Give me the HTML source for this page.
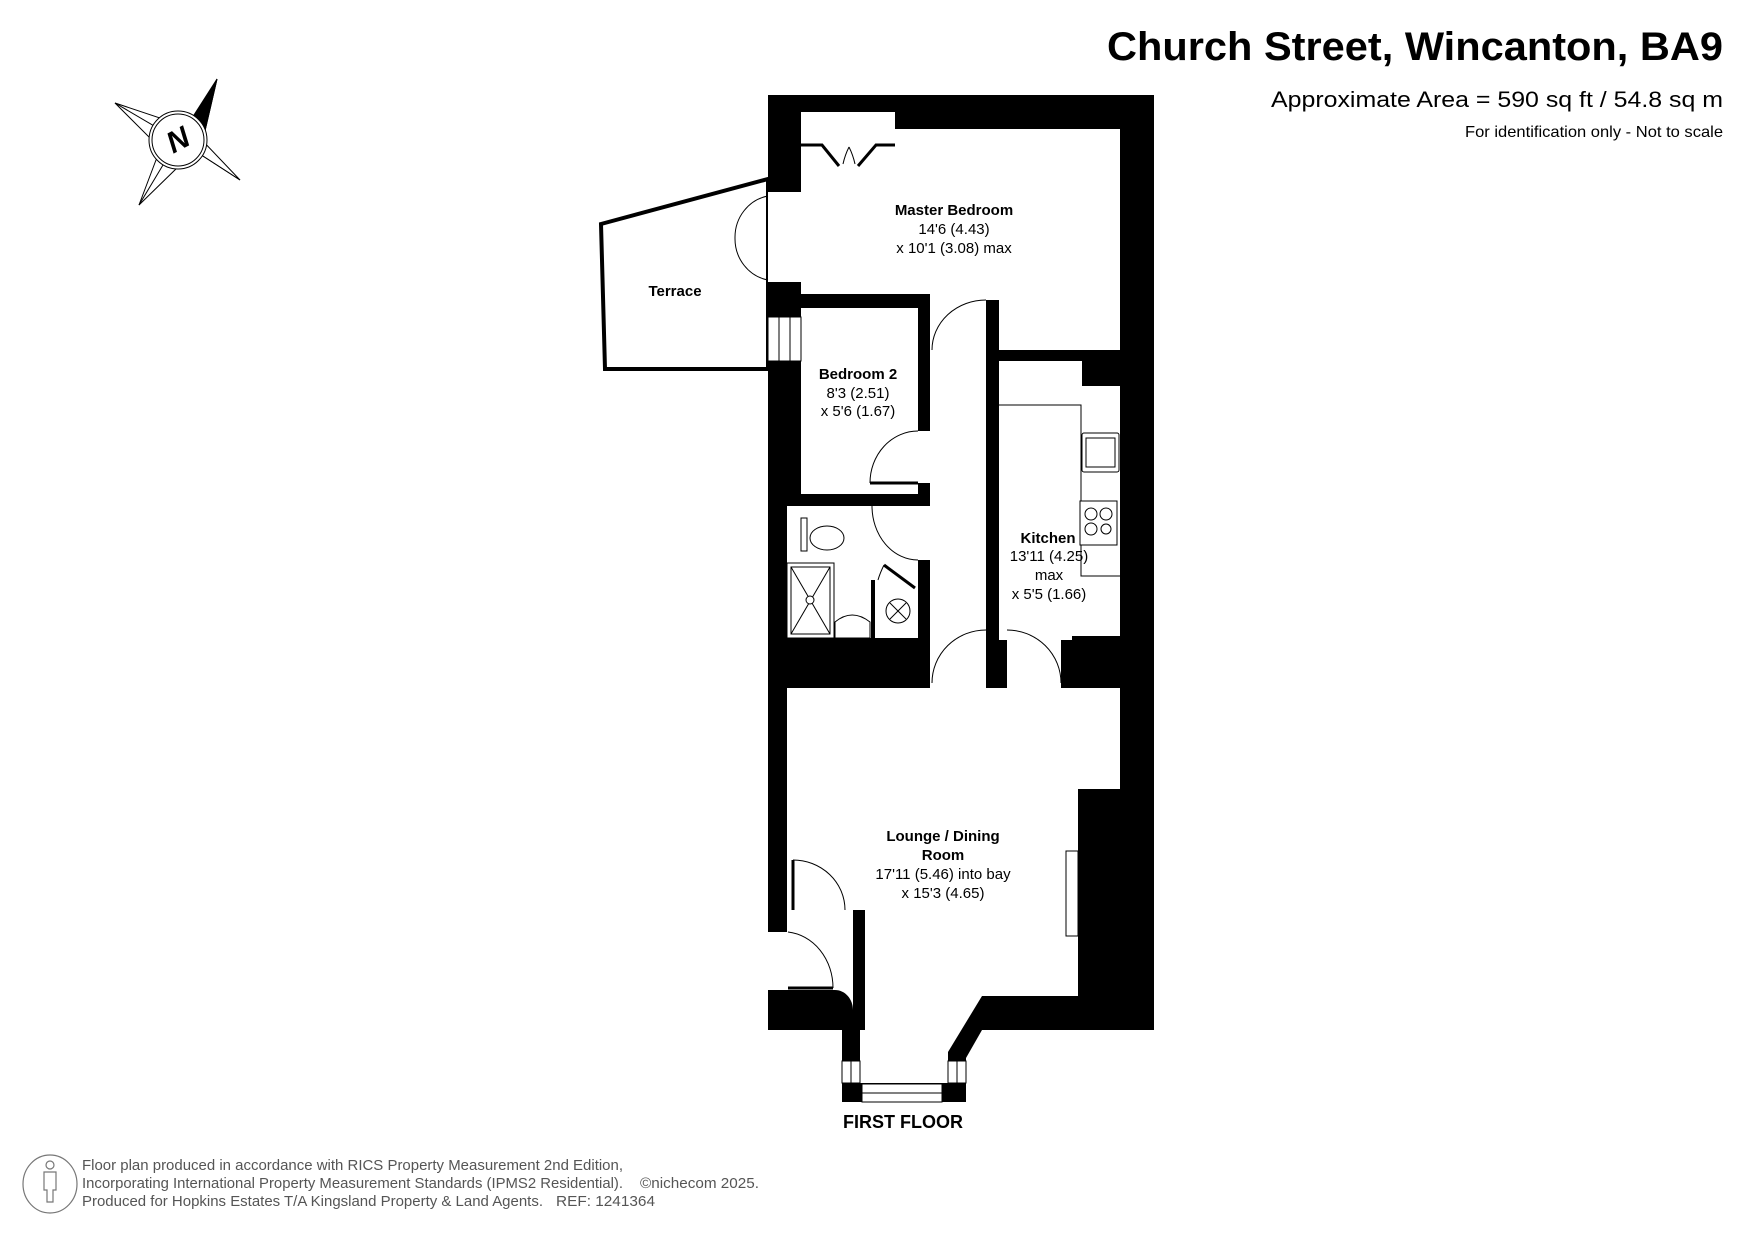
<!DOCTYPE html>
<html><head><meta charset="utf-8"><style>
html,body{margin:0;padding:0;background:#fff;}
svg{display:block;}
text{font-family:"Liberation Sans",Arial,sans-serif;}
</style></head><body>
<svg width="1755" height="1241" viewBox="0 0 1755 1241" xmlns="http://www.w3.org/2000/svg">
<rect width="1755" height="1241" fill="#fff"/>

<text x="1723" y="60" text-anchor="end" font-size="40" font-weight="bold" textLength="616" lengthAdjust="spacingAndGlyphs">Church Street, Wincanton, BA9</text>
<text x="1723" y="107" text-anchor="end" font-size="22" textLength="452" lengthAdjust="spacingAndGlyphs">Approximate Area = 590 sq ft / 54.8 sq m</text>
<text x="1723" y="137" text-anchor="end" font-size="16" textLength="258" lengthAdjust="spacingAndGlyphs">For identification only - Not to scale</text>

<!-- Compass -->
<g stroke="#000" stroke-width="1" fill="none">
  <polygon points="217,79 196,123 178,140 201,148" fill="#fff"/>
  <polygon points="217,79 201,148 178,140" fill="#000"/>
  <polygon points="115,103 160,118 178,140 150,138" fill="#fff"/>
  <polygon points="240,180 206,158 178,140 200,138" fill="#fff"/>
  <polygon points="139,205 156,160 178,140 180,165" fill="#fff"/>
  <line x1="115" y1="103" x2="178" y2="140"/>
  <line x1="240" y1="180" x2="178" y2="140"/>
  <line x1="139" y1="205" x2="178" y2="140"/>
  <circle cx="178" cy="140" r="29" fill="#fff"/>
  <circle cx="178" cy="140" r="26"/>
</g>
<text x="178" y="150" text-anchor="middle" font-size="30" font-weight="bold" font-style="italic" transform="rotate(-28 178 140)">N</text>

<!-- Terrace -->
<polygon points="601,224 768,179 768,369 605,369" fill="#fff" stroke="#000" stroke-width="4"/>
<text x="675" y="296" text-anchor="middle" font-size="15" font-weight="bold">Terrace</text>

<!-- Building black mass -->
<polygon points="768,95 1154,95 1154,1030 982,1030 966,1058 966,1102 842,1102 842,1030 768,1030" fill="#000"/>

<g fill="#fff">
  <polygon points="801,112 895,112 895,129 1120,129 1120,350 986,350 986,294 801,294"/>
  <rect x="768" y="192" width="34" height="90"/>
  <rect x="930" y="294" width="56" height="396"/>
  <rect x="801" y="308" width="117" height="186"/>
  <rect x="917" y="431" width="14" height="52"/>
  <rect x="787" y="506" width="131" height="132"/>
  <rect x="917" y="506" width="14" height="54"/>
  <rect x="999" y="361" width="83" height="30"/>
  <rect x="999" y="386" width="121" height="250"/>
  <rect x="999" y="630" width="73" height="10"/>
  <rect x="1007" y="630" width="54" height="60"/>
  <rect x="932" y="630" width="54" height="60"/>
  <path d="M787,688 L1120,688 L1120,789 L1078,789 L1078,996 L982,996 L948,1052 L948,1083 L860,1083 L860,1030 L865,1030 L865,910 L853,910 L853,1010 C853,999 845,990 835,990 L787,990 Z"/>
  <rect x="768" y="932" width="20" height="58"/>
</g>

<rect x="986" y="300" width="13" height="50" fill="#000"/>
<rect x="871" y="580" width="4" height="58" fill="#000"/>

<!-- Windows -->
<g fill="#fff" stroke="#000" stroke-width="1">
  <rect x="768" y="317" width="33" height="44"/>
  <line x1="779" y1="317" x2="779" y2="361"/><line x1="790" y1="317" x2="790" y2="361"/>
  <rect x="842" y="1061" width="18" height="22"/>
  <line x1="851" y1="1061" x2="851" y2="1083"/>
  <rect x="948" y="1061" width="18" height="22"/>
  <line x1="957" y1="1061" x2="957" y2="1083"/>
  <rect x="862" y="1084" width="80" height="18"/>
  <line x1="862" y1="1093" x2="942" y2="1093"/>
  <rect x="1066" y="851" width="12" height="85"/>
</g>

<!-- Doors -->
<g fill="none" stroke="#000" stroke-width="1">
  <path d="M768,196 A40,42 0 0 0 735,238"/>
  <path d="M768,280 A40,42 0 0 1 735,238"/>
  <path d="M932,350 A54,50 0 0 1 986,300"/>
  <path d="M870,483 A48,52 0 0 1 918,431"/>
  <path d="M872,506 A46,54 0 0 0 918,560"/>
  <path d="M932,683 A54,53 0 0 1 986,630"/>
  <path d="M1061,683 A54,53 0 0 0 1007,630"/>
  <path d="M793,860 A52,50 0 0 1 845,910"/>
  <path d="M788,932 A50,56 0 0 1 833,988"/>
  <path d="M849,147 Q845,155 843,164"/><path d="M849,147 Q853,155 855,164"/>
  <path d="M884,565 Q880,573 878,580"/>
</g>
<g stroke="#000" stroke-width="3" fill="none">
  <polyline points="801,145 822,145 839,166"/>
  <polyline points="895,145 876,145 858,166"/>
  <line x1="793" y1="860" x2="793" y2="910"/>
  <line x1="788" y1="988" x2="833" y2="988"/>
  <line x1="870" y1="483" x2="918" y2="483"/>
  <line x1="884" y1="565" x2="915" y2="588"/>
</g>

<!-- Kitchen fittings -->
<g fill="#fff" stroke="#000" stroke-width="1">
  <polyline points="999,405 1081,405 1081,576 1120,576" fill="none"/>
  <rect x="1082" y="433" width="37" height="39" rx="2"/>
  <rect x="1086" y="438" width="29" height="29"/>
  <rect x="1080" y="501" width="37" height="44"/>
  <circle cx="1091" cy="514" r="6"/><circle cx="1106" cy="514" r="6"/>
  <circle cx="1091" cy="529" r="6"/><circle cx="1106" cy="529" r="5"/>
</g>

<!-- Bath fittings -->
<g fill="#fff" stroke="#000" stroke-width="1">
  <rect x="801" y="518" width="6" height="33"/>
  <ellipse cx="827" cy="538" rx="17" ry="12"/>
  <rect x="787" y="563" width="47" height="75"/>
  <rect x="791" y="567" width="39" height="67"/>
  <line x1="791" y1="567" x2="830" y2="634"/><line x1="830" y1="567" x2="791" y2="634"/>
  <circle cx="810" cy="600" r="4"/>
  <path d="M835,638 L835,622 Q852,608 870,622 L870,638 Z"/>
  <circle cx="898" cy="611" r="12"/>
  <line x1="890" y1="603" x2="906" y2="619"/><line x1="906" y1="603" x2="890" y2="619"/>
</g>

<!-- Room labels -->
<g font-size="15" text-anchor="middle">
  <text x="954" y="215" font-weight="bold">Master Bedroom</text>
  <text x="954" y="234">14'6 (4.43)</text>
  <text x="954" y="253">x 10'1 (3.08) max</text>
  <text x="858" y="379" font-weight="bold">Bedroom 2</text>
  <text x="858" y="398">8'3 (2.51)</text>
  <text x="858" y="416">x 5'6 (1.67)</text>
  <text x="1048" y="543" font-weight="bold">Kitchen</text>
  <text x="1049" y="561">13'11 (4.25)</text>
  <text x="1049" y="580">max</text>
  <text x="1049" y="599">x 5'5 (1.66)</text>
  <text x="943" y="841" font-weight="bold">Lounge / Dining</text>
  <text x="943" y="860" font-weight="bold">Room</text>
  <text x="943" y="879">17'11 (5.46) into bay</text>
  <text x="943" y="898">x 15'3 (4.65)</text>
</g>
<text x="903" y="1128" text-anchor="middle" font-size="18" font-weight="bold">FIRST FLOOR</text>

<!-- Footer -->
<g stroke="#777" fill="none" stroke-width="1.2">
  <ellipse cx="50" cy="1184" rx="27" ry="29"/>
  <circle cx="50" cy="1165" r="4"/>
  <path d="M44,1172 L56,1172 L56,1190 L53,1190 L53,1202 L47,1202 L47,1190 L44,1190 Z"/>
</g>
<g font-size="15" fill="#555">
  <text x="82" y="1170" textLength="541" lengthAdjust="spacingAndGlyphs">Floor plan produced in accordance with RICS Property Measurement 2nd Edition,</text>
  <text x="82" y="1188" textLength="541" lengthAdjust="spacingAndGlyphs">Incorporating International Property Measurement Standards (IPMS2 Residential).</text>
  <text x="640" y="1188" textLength="119" lengthAdjust="spacingAndGlyphs">©nichecom 2025.</text>
  <text x="82" y="1206" textLength="461" lengthAdjust="spacingAndGlyphs">Produced for Hopkins Estates T/A Kingsland Property &amp; Land Agents.</text>
  <text x="556" y="1206" textLength="99" lengthAdjust="spacingAndGlyphs">REF: 1241364</text>
</g>
</svg>
</body></html>
